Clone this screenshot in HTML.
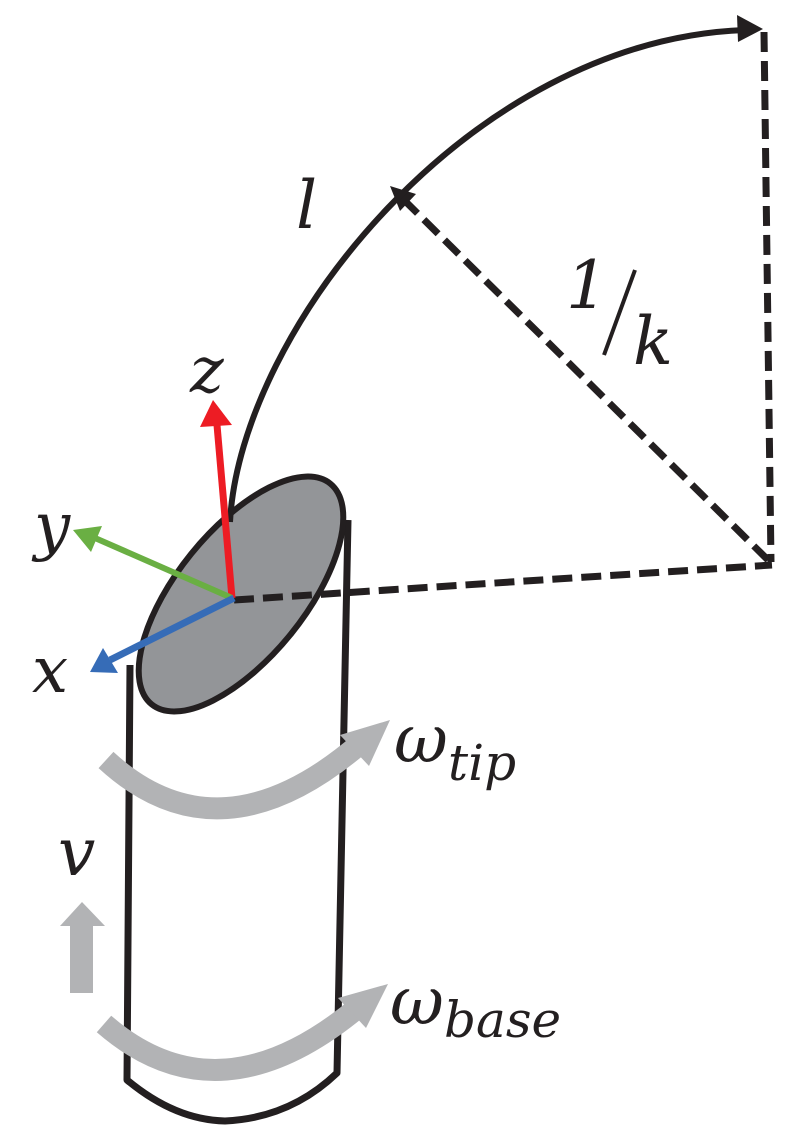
<!DOCTYPE html>
<html><head><meta charset="utf-8"><style>
html,body{margin:0;padding:0;background:#fff;}
svg{display:block;}
text{font-family:"DejaVu Serif","Liberation Serif",serif;font-style:italic;fill:#231f20;}
</style></head><body>
<svg width="798" height="1147" viewBox="0 0 798 1147" xmlns="http://www.w3.org/2000/svg">
<!-- cylinder -->
<path d="M130,665 L127,1080 Q175,1120 225,1121 Q290,1118 337,1073 L348,520" fill="none" stroke="#231f20" stroke-width="7" stroke-linejoin="round"/>
<ellipse cx="241" cy="594" rx="142" ry="64" transform="rotate(-51 241 594)" fill="#939598" stroke="#231f20" stroke-width="6"/>
<!-- dashed lines -->
<g stroke="#231f20" stroke-width="7" stroke-dasharray="20,9" fill="none">
<line x1="234" y1="600" x2="772" y2="565"/>
<line x1="764" y1="32" x2="771" y2="562"/>
<line x1="768" y1="560" x2="402" y2="198"/>
</g>
<polygon points="390,186 416,194 400,211" fill="#231f20"/>
<!-- arc -->
<path d="M230,522 C240,330 470,40 745,30" fill="none" stroke="#231f20" stroke-width="6"/>
<polygon points="763,29 737,15 738,42" fill="#231f20"/>
<!-- axes -->
<line x1="232" y1="598" x2="217" y2="425" stroke="#ed1c24" stroke-width="7"/>
<polygon points="213,400 200,427 232,425" fill="#ed1c24"/>
<line x1="232" y1="598" x2="95" y2="538" stroke="#6aaf43" stroke-width="6"/>
<polygon points="73,530 102,526 91,552" fill="#6aaf43"/>
<line x1="234" y1="598" x2="110" y2="660" stroke="#366cb7" stroke-width="7"/>
<polygon points="90,672 103,648 118,673" fill="#366cb7"/>
<!-- gray arrows -->
<path d="M106,760 Q220,865 362,742" fill="none" stroke="#b2b3b5" stroke-width="22"/>
<polygon points="390,720 340,735 369,766" fill="#b2b3b5"/>
<path d="M104,1024 Q220,1125 362,1004" fill="none" stroke="#b2b3b5" stroke-width="22"/>
<polygon points="388,984 338,998 366,1028" fill="#b2b3b5"/>
<rect x="70" y="925" width="23" height="68" fill="#b2b3b5"/>
<polygon points="60,926 105,926 82,902" fill="#b2b3b5"/>
<!-- labels -->
<text x="296" y="228" font-size="66">l</text>
<text x="190" y="392" font-size="64">z</text>
<text x="34" y="548" font-size="64">y</text>
<text x="32" y="692" font-size="64">x</text>
<text x="394" y="762" font-size="66">ω</text>
<text x="448" y="780" font-size="50">tip</text>
<text x="58" y="875" font-size="66">v</text>
<text x="390" y="1024" font-size="66">ω</text>
<text x="444" y="1037" font-size="50">base</text>
<text x="566" y="308" font-size="66" font-style="normal">1</text>
<line x1="635" y1="270" x2="604" y2="355" stroke="#231f20" stroke-width="4"/>
<text x="633" y="364" font-size="66">k</text>
</svg>
</body></html>
